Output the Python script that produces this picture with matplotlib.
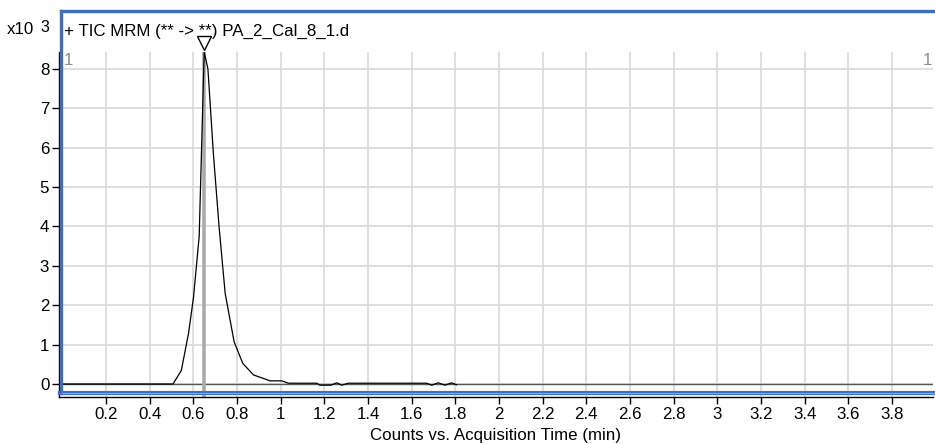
import matplotlib
matplotlib.use('Agg')
import matplotlib.pyplot as plt
from matplotlib.lines import Line2D

plt.rcParams['font.family'] = ['Liberation Sans', 'DejaVu Sans']

# chromatogram trace (x in min, y in counts x10^3)
time_min = [0.0, 0.507, 0.545, 0.578, 0.601, 0.627, 0.65, 0.667, 0.692, 0.718,
            0.746, 0.787, 0.827, 0.876, 0.952, 1.005, 1.036, 1.166, 1.18, 1.23,
            1.257, 1.28, 1.31, 1.669, 1.692, 1.722, 1.753, 1.783, 1.806]
counts_k = [0.0, 0.0, 0.34, 1.28, 2.2, 3.75, 8.43, 8.0, 5.85, 4.0,
            2.3, 1.07, 0.52, 0.23, 0.08, 0.08, 0.02, 0.02, -0.03, -0.03,
            0.03, -0.03, 0.02, 0.02, -0.03, 0.03, -0.03, 0.03, -0.02]
baseline_end = 3.99
peak_time = 0.65
peak_value = 8.43

title = '+ TIC MRM (** -> **) PA_2_Cal_8_1.d'
xlabel = 'Counts vs. Acquisition Time (min)'
xticks = [0.2, 0.4, 0.6, 0.8, 1, 1.2, 1.4, 1.6, 1.8, 2, 2.2, 2.4, 2.6, 2.8,
          3, 3.2, 3.4, 3.6, 3.8]
yticks = [0, 1, 2, 3, 4, 5, 6, 7, 8]

W, H = 935, 444
fs = 12.2
fig = plt.figure(figsize=(W / 100, H / 100), dpi=100)
ax = fig.add_axes([59 / W, 1 - 397 / H, (933 - 59) / W, (397 - 52) / H])

ax.set_xlim(-0.0151, 3.988)
ax.set_ylim(-0.33, 8.43)

ax.grid(True, color='#dcdcdc', linewidth=1.3)
ax.set_axisbelow(True)

# baseline then signal
ax.plot([0, baseline_end], [0, 0], color='#555555', linewidth=1.0, zorder=2)
ax.plot(time_min, counts_k, color='black', linewidth=0.9, zorder=3)

# peak marker
ax.plot([peak_time, peak_time], [-0.33, peak_value], color='#aaaaaa',
        linewidth=2.6, zorder=2.5, solid_capstyle='butt')
ax.plot([peak_time], [peak_value + 0.22], marker='v', markersize=10,
        markerfacecolor='white', markeredgecolor='black', markeredgewidth=1.0,
        clip_on=False, zorder=5)

ax.set_xticks(xticks)
ax.set_xticklabels([f'{v:g}' for v in xticks])
ax.set_yticks(yticks)
ax.tick_params(axis='both', direction='out', length=5, width=1, labelsize=fs,
               color='black', pad=2)

for s in ['top', 'right']:
    ax.spines[s].set_visible(False)
ax.spines['left'].set_linewidth(1.0)
ax.spines['bottom'].set_linewidth(1.0)

ax.set_xlabel(xlabel, fontsize=fs, labelpad=4.5)

ax.text(0.006, 0.997, '1', transform=ax.transAxes, color='#8c8c8c',
        fontsize=fs, ha='left', va='top')
ax.text(0.999, 0.997, '1', transform=ax.transAxes, color='#8c8c8c',
        fontsize=fs, ha='right', va='top')

# header
fig.text(64 / W, 1 - 31 / H, title, fontsize=fs, ha='left', va='center')
fig.text(7 / W, 1 - 30 / H, 'x10', fontsize=fs, ha='left', va='center')
fig.text(40 / W, 1 - 27 / H, '3', fontsize=11.5, ha='left', va='center')

# blue frame (no right side)
blue = '#3c6ec6'
fig.add_artist(Line2D([61 / W, 1.0], [1 - 11.5 / H, 1 - 11.5 / H],
                      color=blue, linewidth=2.4))
fig.add_artist(Line2D([61 / W, 61 / W], [1 - 11.5 / H, 1 - 393.3 / H],
                      color=blue, linewidth=2.4))
fig.add_artist(Line2D([60 / W, 1.0], [1 - 393.3 / H, 1 - 393.3 / H],
                      color=blue, linewidth=3.0))
fig.add_artist(Line2D([62 / W, 1.0], [1 - 393.3 / H, 1 - 393.3 / H],
                      color='#9ab8ea', linewidth=0.6))

fig.savefig('out.png', dpi=100)
